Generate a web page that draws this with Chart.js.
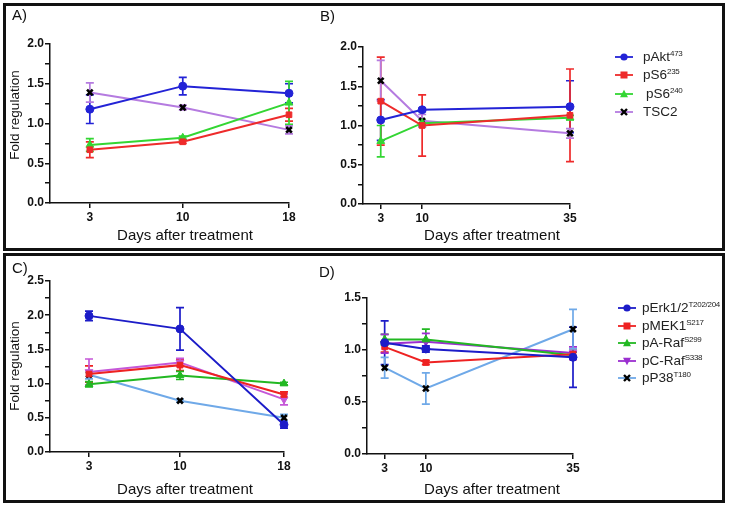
<!DOCTYPE html>
<html><head><meta charset="utf-8">
<script src="https://cdn.jsdelivr.net/npm/chart.js@4.4.0/dist/chart.umd.min.js"></script>
<style>
html,body{margin:0;padding:0;background:#fff;}
#wrap{position:relative;width:729px;height:506px;overflow:hidden;font-family:"Liberation Sans",Arial,sans-serif;color:#111;}
canvas{position:absolute;left:0;top:0;}
.box{position:absolute;border:3px solid #111;box-sizing:border-box;}
.lbl{position:absolute;font-size:15px;line-height:15px;}
.xt{position:absolute;font-size:15px;line-height:15px;width:200px;text-align:center;white-space:nowrap;}
.yt{position:absolute;font-size:13.5px;line-height:14px;white-space:nowrap;transform:translate(-50%,-50%) rotate(-90deg);}
.leg{position:absolute;font-size:13.5px;color:#222;}
.it{position:absolute;white-space:nowrap;height:16px;line-height:16px;}
.it svg{position:absolute;left:0;top:3px;}
.it span{position:absolute;top:0;}
sup{font-size:8px;letter-spacing:-0.3px;vertical-align:0;position:relative;top:-5px;}
</style></head>
<body>
<div id="wrap">
  <div class="box" style="left:3px;top:3px;width:722px;height:248px"></div>
  <div class="box" style="left:3px;top:253px;width:722px;height:250px"></div>
  <canvas id="cA" width="729" height="506"></canvas>
  <canvas id="cB" width="729" height="506"></canvas>
  <canvas id="cC" width="729" height="506"></canvas>
  <canvas id="cD" width="729" height="506"></canvas>
  <div class="lbl" style="left:12px;top:7px">A)</div>
  <div class="lbl" style="left:320px;top:8px">B)</div>
  <div class="lbl" style="left:12px;top:260px">C)</div>
  <div class="lbl" style="left:319px;top:264px">D)</div>
  <div class="xt" style="left:85px;top:227px">Days after treatment</div>
  <div class="xt" style="left:392px;top:227px">Days after treatment</div>
  <div class="xt" style="left:85px;top:481px">Days after treatment</div>
  <div class="xt" style="left:392px;top:481px">Days after treatment</div>
  <div class="yt" style="left:15px;top:115px">Fold regulation</div>
  <div class="yt" style="left:15px;top:366px">Fold regulation</div>
  <div class="leg" id="legB"></div>
  <div class="leg" id="legD"></div>
</div>
<script>
// ---------- DATA ----------
const daysA = [3, 10, 18];
const daysB = [3, 10, 35];
const daysC = [3, 10, 18];
const daysD = [3, 10, 35];

// Panel A
const A_pAkt    = [1.18, 1.47, 1.38];  const A_pAkt_err    = [0.18, 0.11, 0.12];
const A_pS6_235 = [0.67, 0.77, 1.11];  const A_pS6_235_err = [0.10, 0.02, 0.08];
const A_pS6_240 = [0.73, 0.82, 1.26];  const A_pS6_240_err = [0.08, 0.02, 0.27];
const A_TSC2    = [1.39, 1.20, 0.92];  const A_TSC2_err    = [0.12, 0.03, 0.05];
// Panel B
const B_pAkt    = [1.07, 1.20, 1.24];  const B_pAkt_err    = [0.26, 0.02, 0.33];
const B_pS6_235 = [1.31, 1.00, 1.13];  const B_pS6_235_err = [0.56, 0.39, 0.59];
const B_pS6_240 = [0.80, 1.03, 1.10];  const B_pS6_240_err = [0.20, 0.04, 0.03];
const B_TSC2    = [1.57, 1.06, 0.90];  const B_TSC2_err    = [0.26, 0.08, 0.06];
// Panel C
const C_pErk  = [1.99, 1.80, 0.40];  const C_pErk_err  = [0.07, 0.31, 0.05];
const C_pMEK1 = [1.14, 1.27, 0.84];  const C_pMEK1_err = [0.12, 0.08, 0.04];
const C_pARaf = [0.99, 1.12, 1.00];  const C_pARaf_err = [0.04, 0.06, 0.02];
const C_pCRaf = [1.17, 1.31, 0.77];  const C_pCRaf_err = [0.19, 0.06, 0.08];
const C_pP38  = [1.13, 0.75, 0.50];  const C_pP38_err  = [0.06, 0.02, 0.05];
// Panel D
const D_pErk  = [1.07, 1.01, 0.93];  const D_pErk_err  = [0.21, 0.03, 0.29];
const D_pMEK1 = [1.03, 0.88, 0.96];  const D_pMEK1_err = [0.05, 0.02, 0.05];
const D_pARaf = [1.10, 1.10, 0.95];  const D_pARaf_err = [0.05, 0.10, 0.03];
const D_pCRaf = [1.06, 1.08, 0.97];  const D_pCRaf_err = [0.09, 0.08, 0.06];
const D_pP38  = [0.83, 0.63, 1.20];  const D_pP38_err  = [0.10, 0.15, 0.19];

const xTicksA = [3, 10, 18];
const xTicksB = [3, 10, 35];
const legendAB = [["pAkt","473"],["pS6","235"],["pS6","240"],["TSC2",""]];
const legendCD = [["pErk1/2","T202/204"],["pMEK1","S217"],["pA-Raf","S299"],["pC-Raf","S338"],["pP38","T180"]];

// ---------- STYLE ----------
const FONT = '"Liberation Sans", Arial, sans-serif';
Chart.defaults.font.family = FONT;
const col = {
  akt:'#2323d6', s235:'#ee2b2b', s240:'#33d633', tsc:'#b57be0',
  erk:'#1c1cc8', mek:'#ee2222', araf:'#22b822', crafC:'#c557d8', crafD:'#9b2fd0', p38:'#6fa9e8'
};
const sty = {
  circle:{pointStyle:'circle', pointRadius:4},
  rect:{pointStyle:'rect', pointRadius:4},
  tri:{pointStyle:'triangle', pointRadius:4.5},
  itri:{pointStyle:'triangle', pointRadius:4.5, pointRotation:180},
  cross:{pointStyle:'crossRot', pointRadius:4, pointBorderColor:'#000', pointBorderWidth:2.6}
};

function ds(label, xs, vals, errs, color, st){
  const d = {
    label, data: xs.map((x,i)=>({x, y: vals[i]})), errors: errs,
    borderColor: color, backgroundColor: color,
    pointBackgroundColor: color, pointBorderColor: color, pointBorderWidth:1,
    borderWidth: 2, tension: 0, clip: false, errColor: color, symbol: st
  };
  return Object.assign(d, sty[st]);
}

const errorBars = {
  id:'errorBars',
  beforeDatasetsDraw(chart){
    const ctx = chart.ctx, xs = chart.scales.x, ys = chart.scales.y;
    chart.data.datasets.forEach(d=>{
      if(!d.errors) return;
      ctx.save();
      ctx.strokeStyle = d.errColor; ctx.lineWidth = 1.7;
      d.data.forEach((p,i)=>{
        const e = d.errors[i];
        const px = xs.getPixelForValue(p.x);
        const y1 = ys.getPixelForValue(p.y - e), y2 = ys.getPixelForValue(p.y + e);
        ctx.beginPath();
        ctx.moveTo(px, y1); ctx.lineTo(px, y2);
        ctx.moveTo(px-4, y1); ctx.lineTo(px+4, y1);
        ctx.moveTo(px-4, y2); ctx.lineTo(px+4, y2);
        ctx.stroke();
      });
      ctx.restore();
    });
  }
};

function makeChart(id, area, xMax, yMax, xTicks, datasets){
  const YW = 30, XH = 25;
  return new Chart(document.getElementById(id), {
    type:'line',
    data:{datasets},
    plugins:[errorBars],
    options:{
      responsive:false, animation:false, devicePixelRatio:1,
      layout:{padding:{left:area.left-YW, top:area.top, right:729-area.right, bottom:506-area.bottom-XH}},
      plugins:{legend:{display:false}, tooltip:{enabled:false}},
      scales:{
        x:{type:'linear', min:0, max:xMax,
           afterBuildTicks:(s)=>{ s.ticks = xTicks.map(v=>({value:v})); },
           afterFit:(s)=>{ s.height = XH; },
           ticks:{autoSkip:false, maxRotation:0, padding:2, color:'#111', font:{size:12, weight:'bold'}, callback:(v)=>String(v)},
           grid:{drawOnChartArea:false, drawTicks:true, tickLength:5, color:'#111', lineWidth:1.5},
           border:{display:true, color:'#111', width:1.5}
        },
        y:{type:'linear', min:0, max:yMax,
           afterFit:(s)=>{ s.width = YW; },
           ticks:{stepSize:0.25, autoSkip:false, padding:1, color:'#111', font:{size:12, weight:'bold'},
                  callback:(v)=> (Math.round(v*100) % 50 === 0) ? v.toFixed(1) : ''},
           grid:{drawOnChartArea:false, drawTicks:true, tickLength:5, color:'#111', lineWidth:1.5},
           border:{display:true, color:'#111', width:1.5}
        }
      }
    }
  });
}

const chA = makeChart('cA', {left:50, top:44, right:289, bottom:203}, 18, 2.0, xTicksA, [
  ds('pAkt', daysA, A_pAkt, A_pAkt_err, col.akt, 'circle'),
  ds('pS6235', daysA, A_pS6_235, A_pS6_235_err, col.s235, 'rect'),
  ds('pS6240', daysA, A_pS6_240, A_pS6_240_err, col.s240, 'tri'),
  ds('TSC2', daysA, A_TSC2, A_TSC2_err, col.tsc, 'cross')
]);
const chB = makeChart('cB', {left:363, top:47, right:570, bottom:204}, 35, 2.0, xTicksB, [
  ds('pAkt', daysB, B_pAkt, B_pAkt_err, col.akt, 'circle'),
  ds('pS6235', daysB, B_pS6_235, B_pS6_235_err, col.s235, 'rect'),
  ds('pS6240', daysB, B_pS6_240, B_pS6_240_err, col.s240, 'tri'),
  ds('TSC2', daysB, B_TSC2, B_TSC2_err, col.tsc, 'cross')
]);
const chC = makeChart('cC', {left:50, top:281, right:284, bottom:452}, 18, 2.5, xTicksA, [
  ds('pErk', daysC, C_pErk, C_pErk_err, col.erk, 'circle'),
  ds('pMEK1', daysC, C_pMEK1, C_pMEK1_err, col.mek, 'rect'),
  ds('pARaf', daysC, C_pARaf, C_pARaf_err, col.araf, 'tri'),
  ds('pCRaf', daysC, C_pCRaf, C_pCRaf_err, col.crafC, 'itri'),
  ds('pP38', daysC, C_pP38, C_pP38_err, col.p38, 'cross')
]);
const chD = makeChart('cD', {left:367, top:298, right:573, bottom:454}, 35, 1.5, xTicksB, [
  ds('pErk', daysD, D_pErk, D_pErk_err, col.erk, 'circle'),
  ds('pMEK1', daysD, D_pMEK1, D_pMEK1_err, col.mek, 'rect'),
  ds('pARaf', daysD, D_pARaf, D_pARaf_err, col.araf, 'tri'),
  ds('pCRaf', daysD, D_pCRaf, D_pCRaf_err, col.crafD, 'itri'),
  ds('pP38', daysD, D_pP38, D_pP38_err, col.p38, 'cross')
]);

// ---------- HTML LEGENDS built from chart datasets ----------
function symbolSVG(d){
  const c = d.borderColor, m = d.symbol;
  let mk = '';
  if(m==='circle') mk = `<circle cx="9" cy="5" r="3.6" fill="${c}"/>`;
  else if(m==='rect') mk = `<rect x="5.5" y="1.5" width="7" height="7" fill="${c}"/>`;
  else if(m==='tri') mk = `<polygon points="9,0.8 13,8.2 5,8.2" fill="${c}"/>`;
  else if(m==='itri') mk = `<polygon points="9,9.2 13,1.8 5,1.8" fill="${c}"/>`;
  else if(m==='cross') mk = `<path d="M6,2 L12,8 M12,2 L6,8" stroke="#000" stroke-width="2.4"/>`;
  return `<svg width="18" height="10"><line x1="0" y1="5" x2="18" y2="5" stroke="${c}" stroke-width="1.8"/>${mk}</svg>`;
}
function buildLegend(el, chart, names, x0, y0, step, textDx){
  const html = chart.data.datasets.map((d,i)=>{
    const n = names[i];
    const sup = n[1] ? `<sup>${n[1]}</sup>` : '';
    return `<div class="it" style="left:${x0}px;top:${y0 + i*step - 8}px">${symbolSVG(d)}<span style="left:${textDx[i]}px">${n[0]}${sup}</span></div>`;
  }).join('');
  el.innerHTML = html;
}
buildLegend(document.getElementById('legB'), chB, legendAB, 615, 57, 18.3, [28,28,31,28]);
buildLegend(document.getElementById('legD'), chD, legendCD, 618, 308, 17.6, [24,24,24,24,24]);
</script>
</body></html>
